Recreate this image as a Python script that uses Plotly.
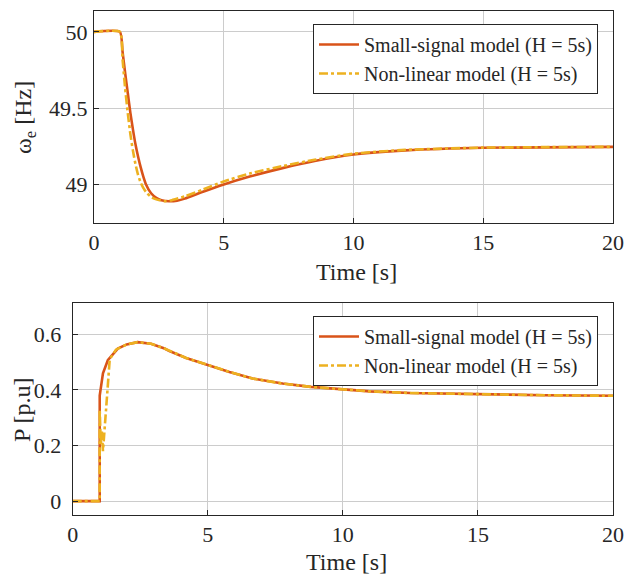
import plotly.graph_objects as go

# ---- data ----
t_ss_w = [0, 1.0, 1.1, 1.2, 1.3, 1.4, 1.5, 1.6, 1.7, 1.8, 1.9, 2.0, 2.2, 2.4, 2.6, 2.9, 3.2, 3.5, 4.2, 5.0, 6.0, 7.3, 8.5, 10, 12, 15, 20]
w_ss = [50, 50, 49.87, 49.73, 49.6, 49.47, 49.36, 49.26, 49.18, 49.11, 49.05, 49.0, 48.94, 48.91, 48.895, 48.888, 48.892, 48.905, 48.95, 48.998, 49.05, 49.107, 49.152, 49.195, 49.222, 49.239, 49.245]

t_nl_w = [0, 1.0, 1.1, 1.2, 1.3, 1.4, 1.5, 1.6, 1.7, 1.8, 1.9, 2.0, 2.2, 2.4, 2.7, 3.0, 3.5, 4.2, 5.0, 6.0, 7.3, 8.5, 10, 12, 15, 20]
w_nl = [50, 50, 49.82, 49.63, 49.47, 49.33, 49.22, 49.13, 49.06, 49.01, 48.975, 48.95, 48.915, 48.9, 48.888, 48.895, 48.92, 48.965, 49.018, 49.07, 49.12, 49.16, 49.2, 49.225, 49.24, 49.245]

t_ss_p = [0, 1.0, 1.0, 1.12, 1.3, 1.67, 2.0, 2.4, 2.9, 3.4, 3.58, 4.2, 5.0, 5.8, 6.66, 7.77, 8.82, 10, 11, 12.5, 15, 17.5, 20]
p_ss = [0, 0, 0.38, 0.46, 0.507, 0.549, 0.564, 0.572, 0.566, 0.549, 0.54, 0.515, 0.49, 0.465, 0.441, 0.423, 0.411, 0.401, 0.395, 0.389, 0.384, 0.381, 0.379]

t_nl_p = [0, 1.0, 1.0, 1.04, 1.08, 1.12, 1.25, 1.37, 1.6, 2.0, 2.4, 2.9, 3.4, 4.2, 5.0, 5.8, 6.66, 7.77, 8.82, 10, 11, 12.5, 15, 17.5, 20]
p_nl = [0, 0, 0.33, 0.2, 0.25, 0.18, 0.35, 0.51, 0.545, 0.564, 0.572, 0.566, 0.549, 0.515, 0.49, 0.465, 0.441, 0.423, 0.411, 0.401, 0.395, 0.389, 0.384, 0.381, 0.379]

x_ticks = [0, 5, 10, 15, 20]
w_ticks = [49, 49.5, 50]
w_tick_text = ["49", "49.5", "50"]
p_ticks = [0, 0.2, 0.4, 0.6]
p_tick_text = ["0", "0.2", "0.4", "0.6"]

name_ss = "Small-signal model (H = 5s)"
name_nl = "Non-linear model (H = 5s)"
x_title = "Time [s]"
w_title = "ω<sub>e</sub> [Hz]"
p_title = "P [p.u]"

RED = "#D95319"
YEL = "#EDB120"
FONT = "Liberation Serif"
TXT = "#262626"
W, H = 625, 576

fig = go.Figure()
fig.add_trace(go.Scatter(x=t_ss_w, y=w_ss, mode="lines", name=name_ss,
                         line=dict(color=RED, width=2.6, shape="spline", smoothing=0.5),
                         xaxis="x", yaxis="y", legend="legend"))
fig.add_trace(go.Scatter(x=t_nl_w, y=w_nl, mode="lines", name=name_nl,
                         line=dict(color=YEL, width=2.6, dash="dashdot", shape="spline", smoothing=0.5),
                         xaxis="x", yaxis="y", legend="legend"))
fig.add_trace(go.Scatter(x=t_ss_p, y=p_ss, mode="lines", name=name_ss,
                         line=dict(color=RED, width=2.6),
                         xaxis="x2", yaxis="y2", legend="legend2"))
fig.add_trace(go.Scatter(x=t_nl_p, y=p_nl, mode="lines", name=name_nl,
                         line=dict(color=YEL, width=2.6, dash="dashdot"),
                         xaxis="x2", yaxis="y2", legend="legend2"))

tick_font = dict(family=FONT, size=22, color=TXT)
title_font = dict(family=FONT, size=24, color=TXT)
axis_common = dict(
    showline=True, mirror=True, linecolor=TXT, linewidth=1,
    showgrid=True, gridcolor="#cccccc", gridwidth=1,
    ticks="inside", ticklen=5, tickcolor=TXT,
    zeroline=False, automargin=False, tickfont=tick_font,
)
legend_common = dict(xanchor="left", yanchor="top", bgcolor="white",
                     bordercolor=TXT, borderwidth=1,
                     font=dict(family=FONT, size=20, color=TXT),
                     tracegroupgap=0, itemwidth=40)

fig.update_layout(
    width=W, height=H,
    margin=dict(l=0, r=0, t=0, b=0),
    paper_bgcolor="white", plot_bgcolor="white",
    font=dict(family=FONT, color=TXT, size=22),
    xaxis=dict(axis_common, domain=[94 / W, 613 / W], range=[0, 20], tickvals=x_ticks, anchor="y"),
    yaxis=dict(axis_common, domain=[1 - 223 / H, 1 - 11 / H], range=[48.745, 50.137],
               tickvals=w_ticks, ticktext=w_tick_text, anchor="x", ticklabelstandoff=1),
    xaxis2=dict(axis_common, domain=[72.7 / W, 613 / W], range=[0, 20], tickvals=x_ticks, anchor="y2"),
    yaxis2=dict(axis_common, domain=[1 - 515 / H, 1 - 302.7 / H], range=[-0.05, 0.714],
                tickvals=p_ticks, ticktext=p_tick_text, anchor="x2", ticklabelstandoff=6),
    legend=dict(legend_common, x=313 / W, y=1 - 24 / H),
    legend2=dict(legend_common, x=313 / W, y=1 - 316 / H),
    showlegend=True,
    annotations=[
        dict(text=x_title, x=356 / W, y=1 - 272 / H, xref="paper", yref="paper",
             xanchor="center", yanchor="middle", showarrow=False, font=title_font),
        dict(text=x_title, x=346 / W, y=1 - 562 / H, xref="paper", yref="paper",
             xanchor="center", yanchor="middle", showarrow=False, font=title_font),
        dict(text=w_title, x=25 / W, y=1 - 118 / H, xref="paper", yref="paper",
             xanchor="center", yanchor="middle", showarrow=False, textangle=-90, font=title_font),
        dict(text=p_title, x=22 / W, y=1 - 410 / H, xref="paper", yref="paper",
             xanchor="center", yanchor="middle", showarrow=False, textangle=-90, font=title_font),
    ],
)

fig.write_html(
    "out.html",
    config={"displayModeBar": False},
    post_script="document.body.style.margin='0px';document.body.style.padding='0px';"
                "document.documentElement.style.overflow='hidden';",
)
